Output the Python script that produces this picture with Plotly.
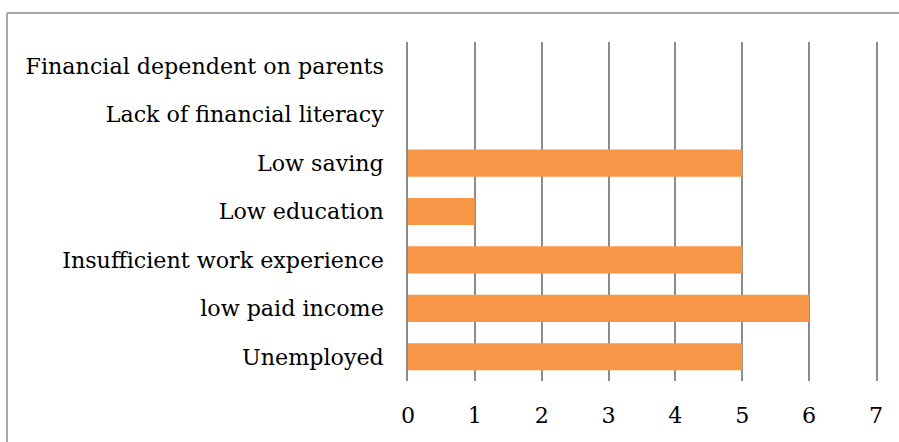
import plotly.graph_objects as go

# Reasons, listed bottom to top as drawn on the category axis
reasons = [
    "Unemployed",
    "low paid income",
    "Insufficient work experience",
    "Low education",
    "Low saving",
    "Lack of financial literacy",
    "Financial dependent on parents",
]
counts = [5, 6, 5, 1, 5, 0, 0]
x_ticks = [0, 1, 2, 3, 4, 5, 6, 7]

W, H = 899, 442
L, R, T, B = 408, 23, 42, 61
pw, ph = W - L - R, H - T - B

def px_x(p):
    return (p - L) / pw

def px_y(p):
    return (H - B - p) / ph

FONT = "DejaVu Serif"
GRID = "#8c8c8c"

fig = go.Figure(
    go.Bar(
        x=counts,
        y=reasons,
        orientation="h",
        marker=dict(color="#F79646", line=dict(width=0)),
        width=0.56,
    )
)

fig.update_layout(
    width=W,
    height=H,
    margin=dict(l=L, r=R, t=T, b=B),
    paper_bgcolor="white",
    plot_bgcolor="white",
    showlegend=False,
    font=dict(family=FONT, size=22.2, color="#000000"),
    bargap=0.44,
)

fig.update_xaxes(
    range=[x_ticks[0], x_ticks[-1]],
    tickvals=x_ticks,
    showgrid=True,
    gridcolor=GRID,
    gridwidth=1.5,
    zeroline=False,
    showline=False,
    ticks="",
    ticklabelstandoff=19,
)
# The category axis line (at 0) and its mirror (at 7) close the grid
fig.update_yaxes(
    categoryorder="array",
    categoryarray=reasons,
    showgrid=False,
    zeroline=False,
    showline=True,
    mirror=True,
    linecolor=GRID,
    linewidth=1.5,
    ticks="",
    ticklabelstandoff=18,
)

# Frame around the chart area (top and left edges)
fig.add_shape(type="line", xref="paper", yref="paper",
              x0=px_x(7), x1=px_x(W + 5), y0=px_y(13), y1=px_y(13),
              line=dict(color="#8a8a8a", width=1.5))
fig.add_shape(type="line", xref="paper", yref="paper",
              x0=px_x(7), x1=px_x(7), y0=px_y(13), y1=px_y(H + 5),
              line=dict(color="#8a8a8a", width=1.5))

fig.write_html("out.html")
